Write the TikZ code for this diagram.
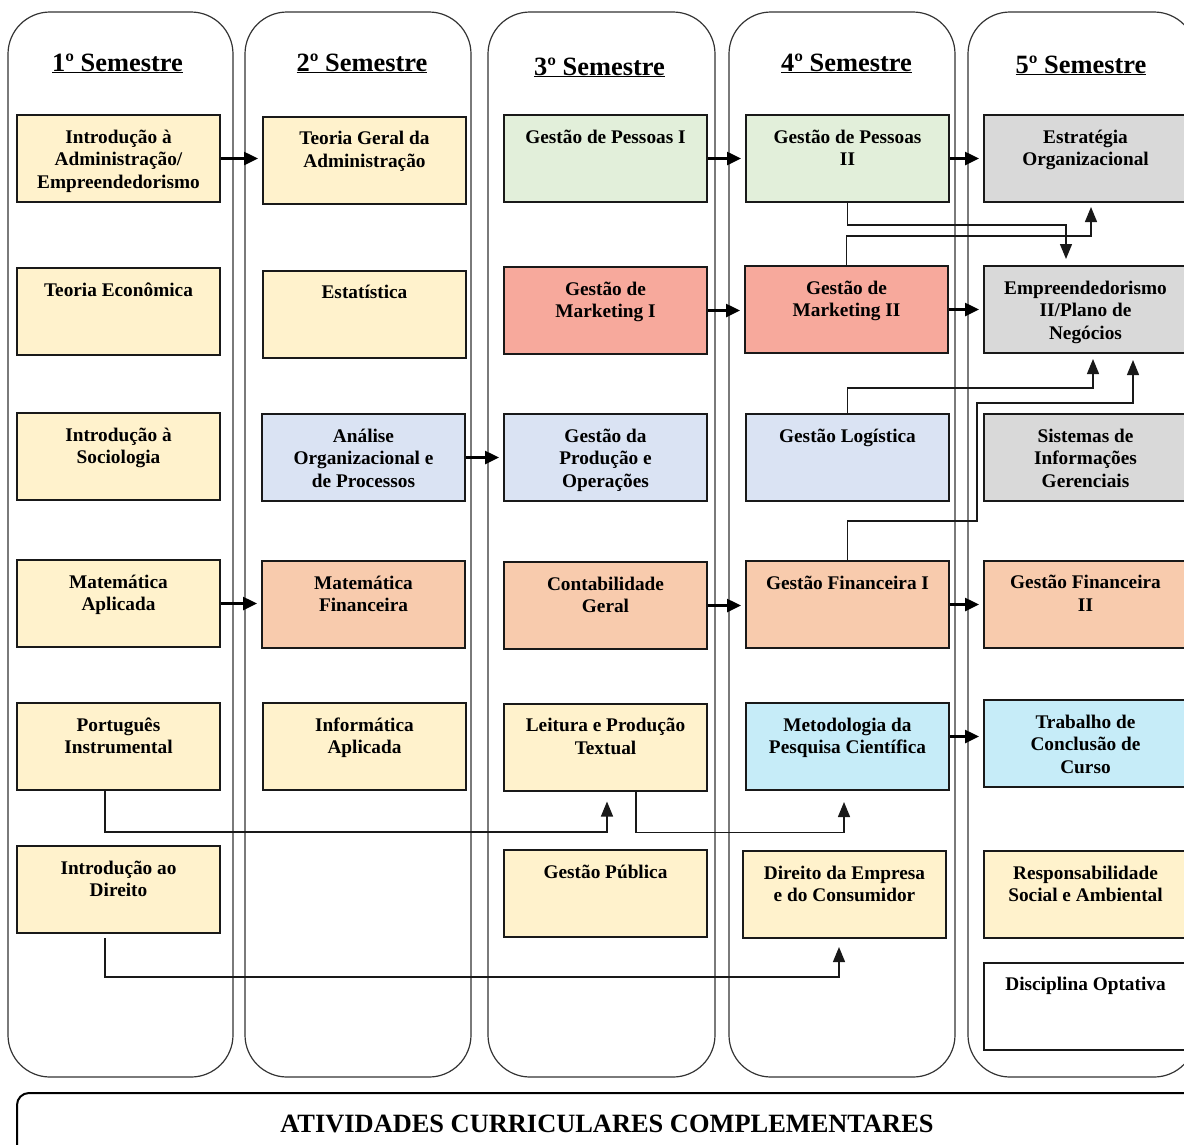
\documentclass[tikz,border=0pt]{standalone}
\usepackage{fontspec}
\setmainfont{Liberation Serif}
\usepackage{tikz}
\usetikzlibrary{positioning}
\usetikzlibrary{arrows.meta}
\usetikzlibrary{calc}
\definecolor{amarelo}{HTML}{FFF2CC}
\definecolor{verde}{HTML}{E2EFDA}
\definecolor{vermelho}{HTML}{F7A99C}
\definecolor{azul}{HTML}{DAE3F3}
\definecolor{laranja}{HTML}{F8CBAD}
\definecolor{cinza}{HTML}{D9D9D9}
\definecolor{ciano}{HTML}{C6ECF8}
\tikzstyle{coluna}=[draw=black!80, line width=1.2pt, rounded corners=42pt]
\tikzstyle{materia}=[rectangle, draw=black!90, line width=2pt, minimum width=203pt, minimum height=87pt, inner sep=0pt]
\tikzstyle{rotulo}=[anchor=north, align=center, inner sep=0pt, font=\fontsize{19.3}{22.5}\selectfont\bfseries]
\tikzstyle{titulo}=[anchor=base, inner sep=0pt, font=\fontsize{26.4}{30}\selectfont\bfseries]
\tikzstyle{grossa}=[draw, line width=2.5pt, -{Triangle[length=14pt,width=13pt]}, shorten >=4pt]
\tikzstyle{fina}=[draw, black!90, line width=1.3pt, -{Triangle[length=15pt,width=12pt]}]

\begin{document}
\begin{tikzpicture}[x=1pt, y=-1pt]
   \useasboundingbox (0,0) rectangle (1184,1144);
   \clip (0,0) rectangle (1184,1144);

   \foreach \xa/\xb in {8/233, 245/471, 488/715, 729/955, 968/1196}
        \draw[coluna] (\xa,12) rectangle (\xb,1077);
   \draw[line width=2pt, rounded corners=12pt] (17,1093) rectangle (1200,1175);
   \node[titulo] (acc) at (607,1132) {ATIVIDADES CURRICULARES COMPLEMENTARES};

   \foreach \pos/\name/\texto in {{(117.5,71)/sem1/1º}, {(362,71)/sem2/2º}, {(599.5,75)/sem3/3º}, {(846.5,71)/sem4/4º}, {(1081,73)/sem5/5º}}
        \node[titulo] (\name) at \pos {\underline{\texto{} Semestre}};

   \def\dy{15.5}
   \foreach \pos/\name/\cor/\texto in {
        {(118.5,158.5)/intadm/amarelo/{Introdução à\\Administração/\\Empreendedorismo}},
        {(118.5,311.5)/teco/amarelo/{Teoria Econômica}},
        {(118.5,456.5)/isoc/amarelo/{Introdução à\\Sociologia}},
        {(118.5,603.5)/matapl/amarelo/{Matemática\\Aplicada}},
        {(118.5,746.5)/port/amarelo/{Português\\Instrumental}},
        {(118.5,889.5)/intdir/amarelo/{Introdução ao\\Direito}},
        {(364.5,160)/tga/amarelo/{Teoria Geral da\\Administração}},
        {(364.5,314)/estat/amarelo/{Estatística}},
        {(363.5,457.5)/anorg/azul/{Análise\\Organizacional e\\de Processos}},
        {(363.5,604.5)/matfin/laranja/{Matemática\\Financeira}},
        {(364.5,746.5)/infap/amarelo/{Informática\\Aplicada}},
        {(605.5,158.5)/gp1/verde/{Gestão de Pessoas I}},
        {(605.5,310.5)/gm1/vermelho/{Gestão de\\Marketing I}},
        {(605.5,457.5)/gprod/azul/{Gestão da\\Produção e\\Operações}},
        {(605.5,605.5)/contg/laranja/{Contabilidade\\Geral}},
        {(605.5,747)/leit/amarelo/{Leitura e Produção\\Textual}},
        {(605.5,893.5)/gpub/amarelo/{Gestão Pública}},
        {(847.5,158.5)/gp2/verde/{Gestão de Pessoas\\II}},
        {(846.5,309.5)/gm2/vermelho/{Gestão de\\Marketing II}},
        {(847.5,457.5)/glog/azul/{Gestão Logística}},
        {(847.5,604.5)/gf1/laranja/{Gestão Financeira I}},
        {(847.5,746.5)/metod/ciano/{Metodologia da\\Pesquisa Científica}},
        {(844.5,894.5)/diremp/amarelo/{Direito da Empresa\\e do Consumidor}},
        {(1085.5,158.5)/estr/cinza/{Estratégia\\Organizacional}},
        {(1085.5,309.5)/emp/cinza/{Empreendedorismo\\II/Plano de\\Negócios}},
        {(1085.5,457.5)/sig/cinza/{Sistemas de\\Informações\\Gerenciais}},
        {(1085.5,604)/gf2/laranja/{Gestão Financeira\\II}},
        {(1085.5,743.5)/tcc/ciano/{Trabalho de\\Conclusão de\\Curso}},
        {(1085.5,894.5)/rsa/amarelo/{Responsabilidade\\Social e Ambiental}},
        {(1085.5,1006)/opt/white/{Disciplina Optativa}}}
   {
        \node[materia, fill=\cor] (\name) at \pos {};
        \node[rotulo] (\name-t) at ([yshift=-\dy pt]\name.north) {\texto};
   }

   \foreach \source/\dest in {intadm/tga, matapl/matfin, anorg/gprod, gp1/gp2, gm1/gm2, contg/gf1, gp2/estr, gm2/emp, gf1/gf2}
        \path[grossa] (\source.east) -- (\source.east -| \dest.west);
   \path[grossa] ([yshift=10pt]metod.east) -- ([yshift=10pt]metod.east -| tcc.west);

   \coordinate (desvio) at (977,403);
   \path[fina, shorten >=6pt] (gp2.south) -- ++(0,22) -| ([xshift=-19.5pt]emp.north);
   \path[fina, shorten >=4pt] (gm2.north) -- ++(0,-29) -| ([xshift=5.5pt]estr.south);
   \path[fina, shorten >=5pt] (glog.north) -- ++(0,-25) -| ([xshift=7.5pt]emp.south);
   \path[fina, shorten >=6pt] (gf1.north) -- ++(0,-39) -| (desvio) -| ([xshift=47.5pt]emp.south);
   \path[fina, shorten >=10pt] ([xshift=-13.5pt]port.south) -- ++(0,41) -| ([xshift=1.5pt]leit.south);
   \path[fina, shorten >=11pt] ([xshift=30.5pt]leit.south) -- ++(0,41) -| ([xshift=-3.5pt]metod.south);
   \path[fina, shorten <=4pt, shorten >=8pt] ([xshift=-13.5pt]intdir.south) -- ++(0,43) -| ([xshift=-5.5pt]diremp.south);

\end{tikzpicture}
\end{document}
